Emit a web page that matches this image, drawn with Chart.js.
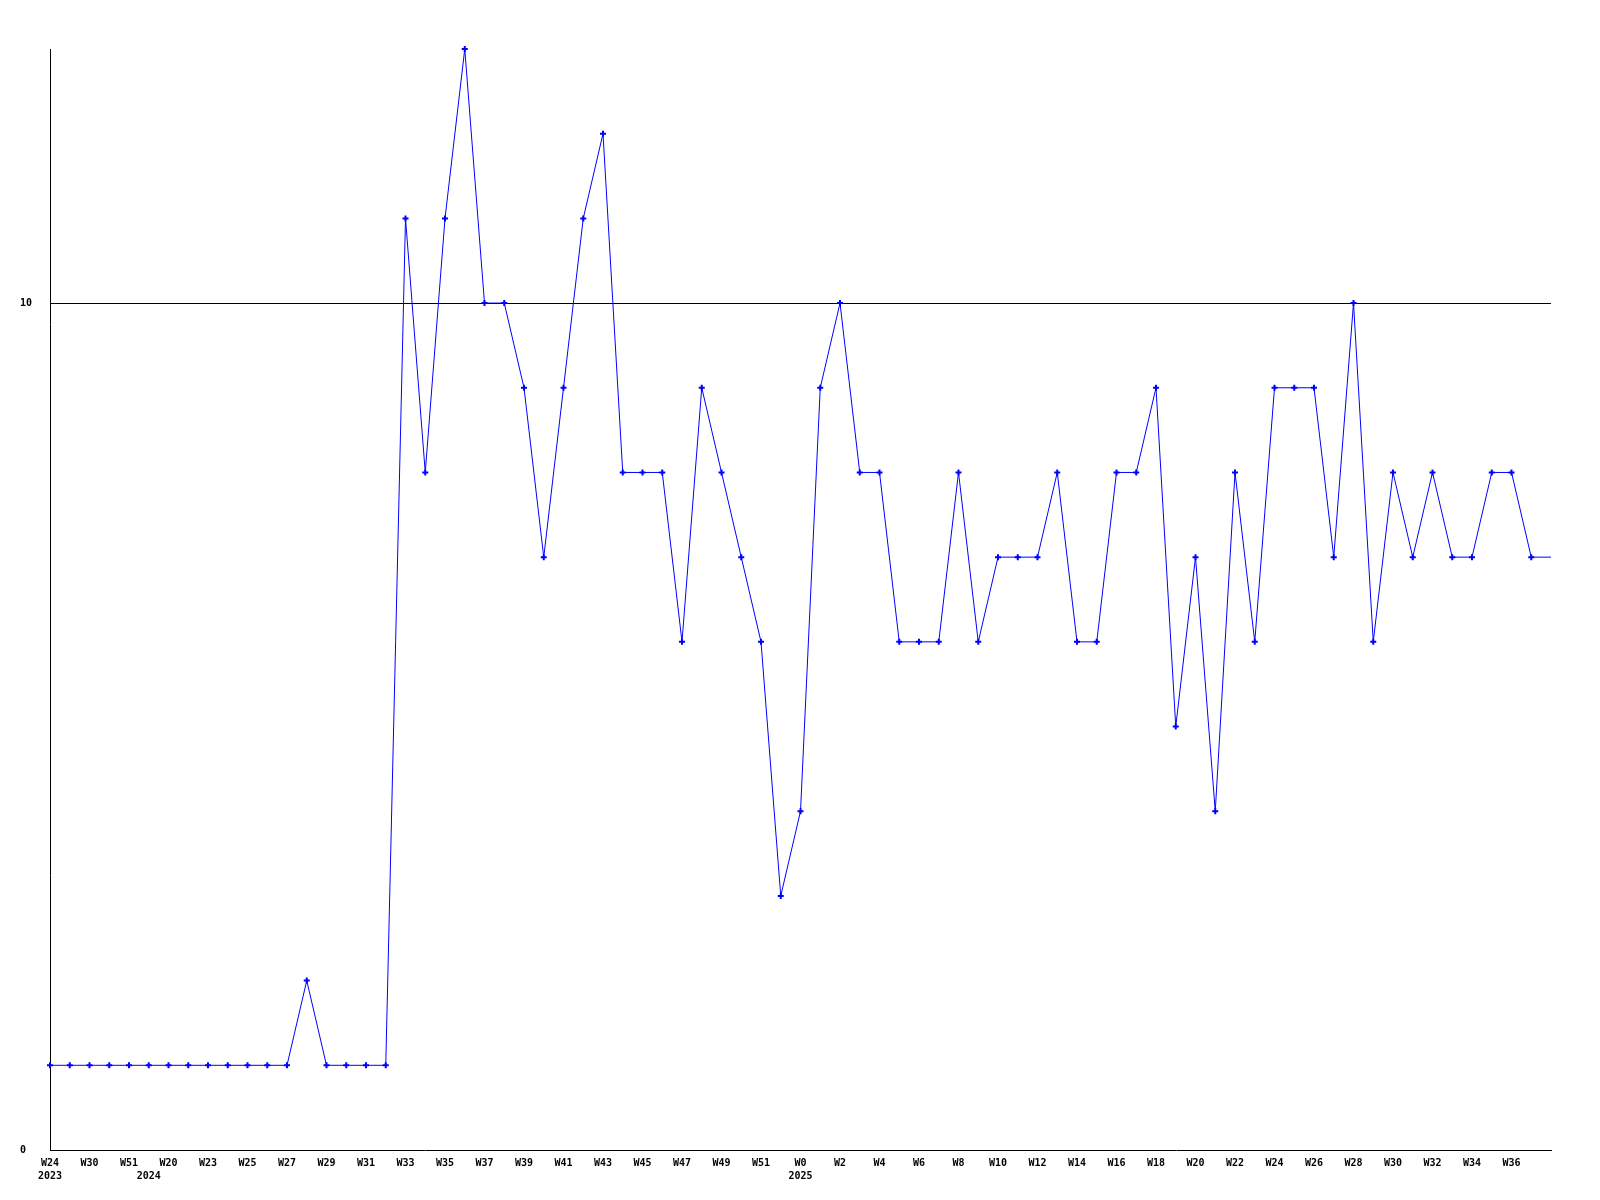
<!DOCTYPE html>
<html>
<head>
<meta charset="utf-8">
<script src="https://cdn.jsdelivr.net/npm/chart.js@4/dist/chart.umd.min.js"></script>
<style>
  html, body { margin: 0; padding: 0; background: #fff; }
  #wrap { width: 1600px; height: 1200px; }
</style>
</head>
<body>
<div id="wrap"><canvas id="chart" width="1600" height="1200"></canvas></div>
<script>
// week labels, one per point (only every second one is printed)
const weeks = [
  'W24', 'W27', 'W30', 'W40', 'W51', 'W10', 'W20', 'W22', 'W23', 'W24',
  'W25', 'W26', 'W27', 'W28', 'W29', 'W30', 'W31', 'W32', 'W33', 'W34',
  'W35', 'W36', 'W37', 'W38', 'W39', 'W40', 'W41', 'W42', 'W43', 'W44',
  'W45', 'W46', 'W47', 'W48', 'W49', 'W50', 'W51', 'W52', 'W0', 'W1',
  'W2', 'W3', 'W4', 'W5', 'W6', 'W7', 'W8', 'W9', 'W10', 'W11',
  'W12', 'W13', 'W14', 'W15', 'W16', 'W17', 'W18', 'W19', 'W20', 'W21',
  'W22', 'W23', 'W24', 'W25', 'W26', 'W27', 'W28', 'W29', 'W30', 'W31',
  'W32', 'W33', 'W34', 'W35', 'W36', 'W37', 'W38'
];
// year shown under the first week of each year
const yearStarts = { 0: '2023', 5: '2024', 38: '2025' };

const counts = [
  1, 1, 1, 1, 1, 1, 1, 1, 1, 1,
  1, 1, 1, 2, 1, 1, 1, 1, 11, 8,
  11, 13, 10, 10, 9, 7, 9, 11, 12, 8,
  8, 8, 6, 9, 8, 7, 6, 3, 4, 9,
  10, 8, 8, 6, 6, 6, 8, 6, 7, 7,
  7, 8, 6, 6, 8, 8, 9, 5, 7, 4,
  8, 6, 9, 9, 9, 7, 10, 6, 8, 7,
  8, 7, 7, 8, 8, 7, 7
];

const yTicks = [0, 10];
const lastIdx = counts.length - 1;

const labelFont = { family: '"DejaVu Sans Mono", monospace', size: 10, weight: 'bold', lineHeight: 1.3 };

new Chart(document.getElementById('chart'), {
  type: 'line',
  data: {
    labels: weeks,
    datasets: [{
      data: counts,
      borderColor: '#0000ff',
      backgroundColor: '#0000ff',
      borderWidth: 1,
      tension: 0,
      pointStyle: 'cross',
      pointRadius: counts.map((v, i) => i === lastIdx ? 0 : 3),
      pointBorderWidth: 2,
      pointHoverRadius: 0,
      clip: false
    }]
  },
  options: {
    responsive: false,
    animation: false,
    events: [],
    layout: { padding: { left: 20, right: 49, top: 49, bottom: 0 } },
    plugins: {
      legend: { display: false },
      tooltip: { enabled: false },
      title: { display: false }
    },
    scales: {
      x: {
        offset: false,
        grid: { drawOnChartArea: false, drawTicks: false },
        border: { display: true, color: '#000', width: 1 },
        ticks: {
          autoSkip: false,
          maxRotation: 0,
          minRotation: 0,
          padding: 7,
          color: '#000',
          font: labelFont,
          callback: (val, i) => {
            const wk = (i % 2 === 0 && i !== lastIdx) ? weeks[i] : '';
            if (yearStarts[i]) return [wk, yearStarts[i]];
            return wk;
          }
        },
        afterFit: s => { s.height = 50; }
      },
      y: {
        min: 0,
        max: 13,
        afterBuildTicks: s => { s.ticks = yTicks.map(v => ({ value: v })); },
        grid: {
          drawTicks: false,
          color: ctx => ctx.tick && ctx.tick.value === 10 ? '#000' : 'rgba(0,0,0,0)',
          lineWidth: 1
        },
        border: { display: true, color: '#000', width: 1 },
        ticks: {
          crossAlign: 'far',
          padding: 0,
          color: '#000',
          font: labelFont
        },
        afterFit: s => { s.width = 30; }
      }
    }
  }
});
</script>
</body>
</html>
